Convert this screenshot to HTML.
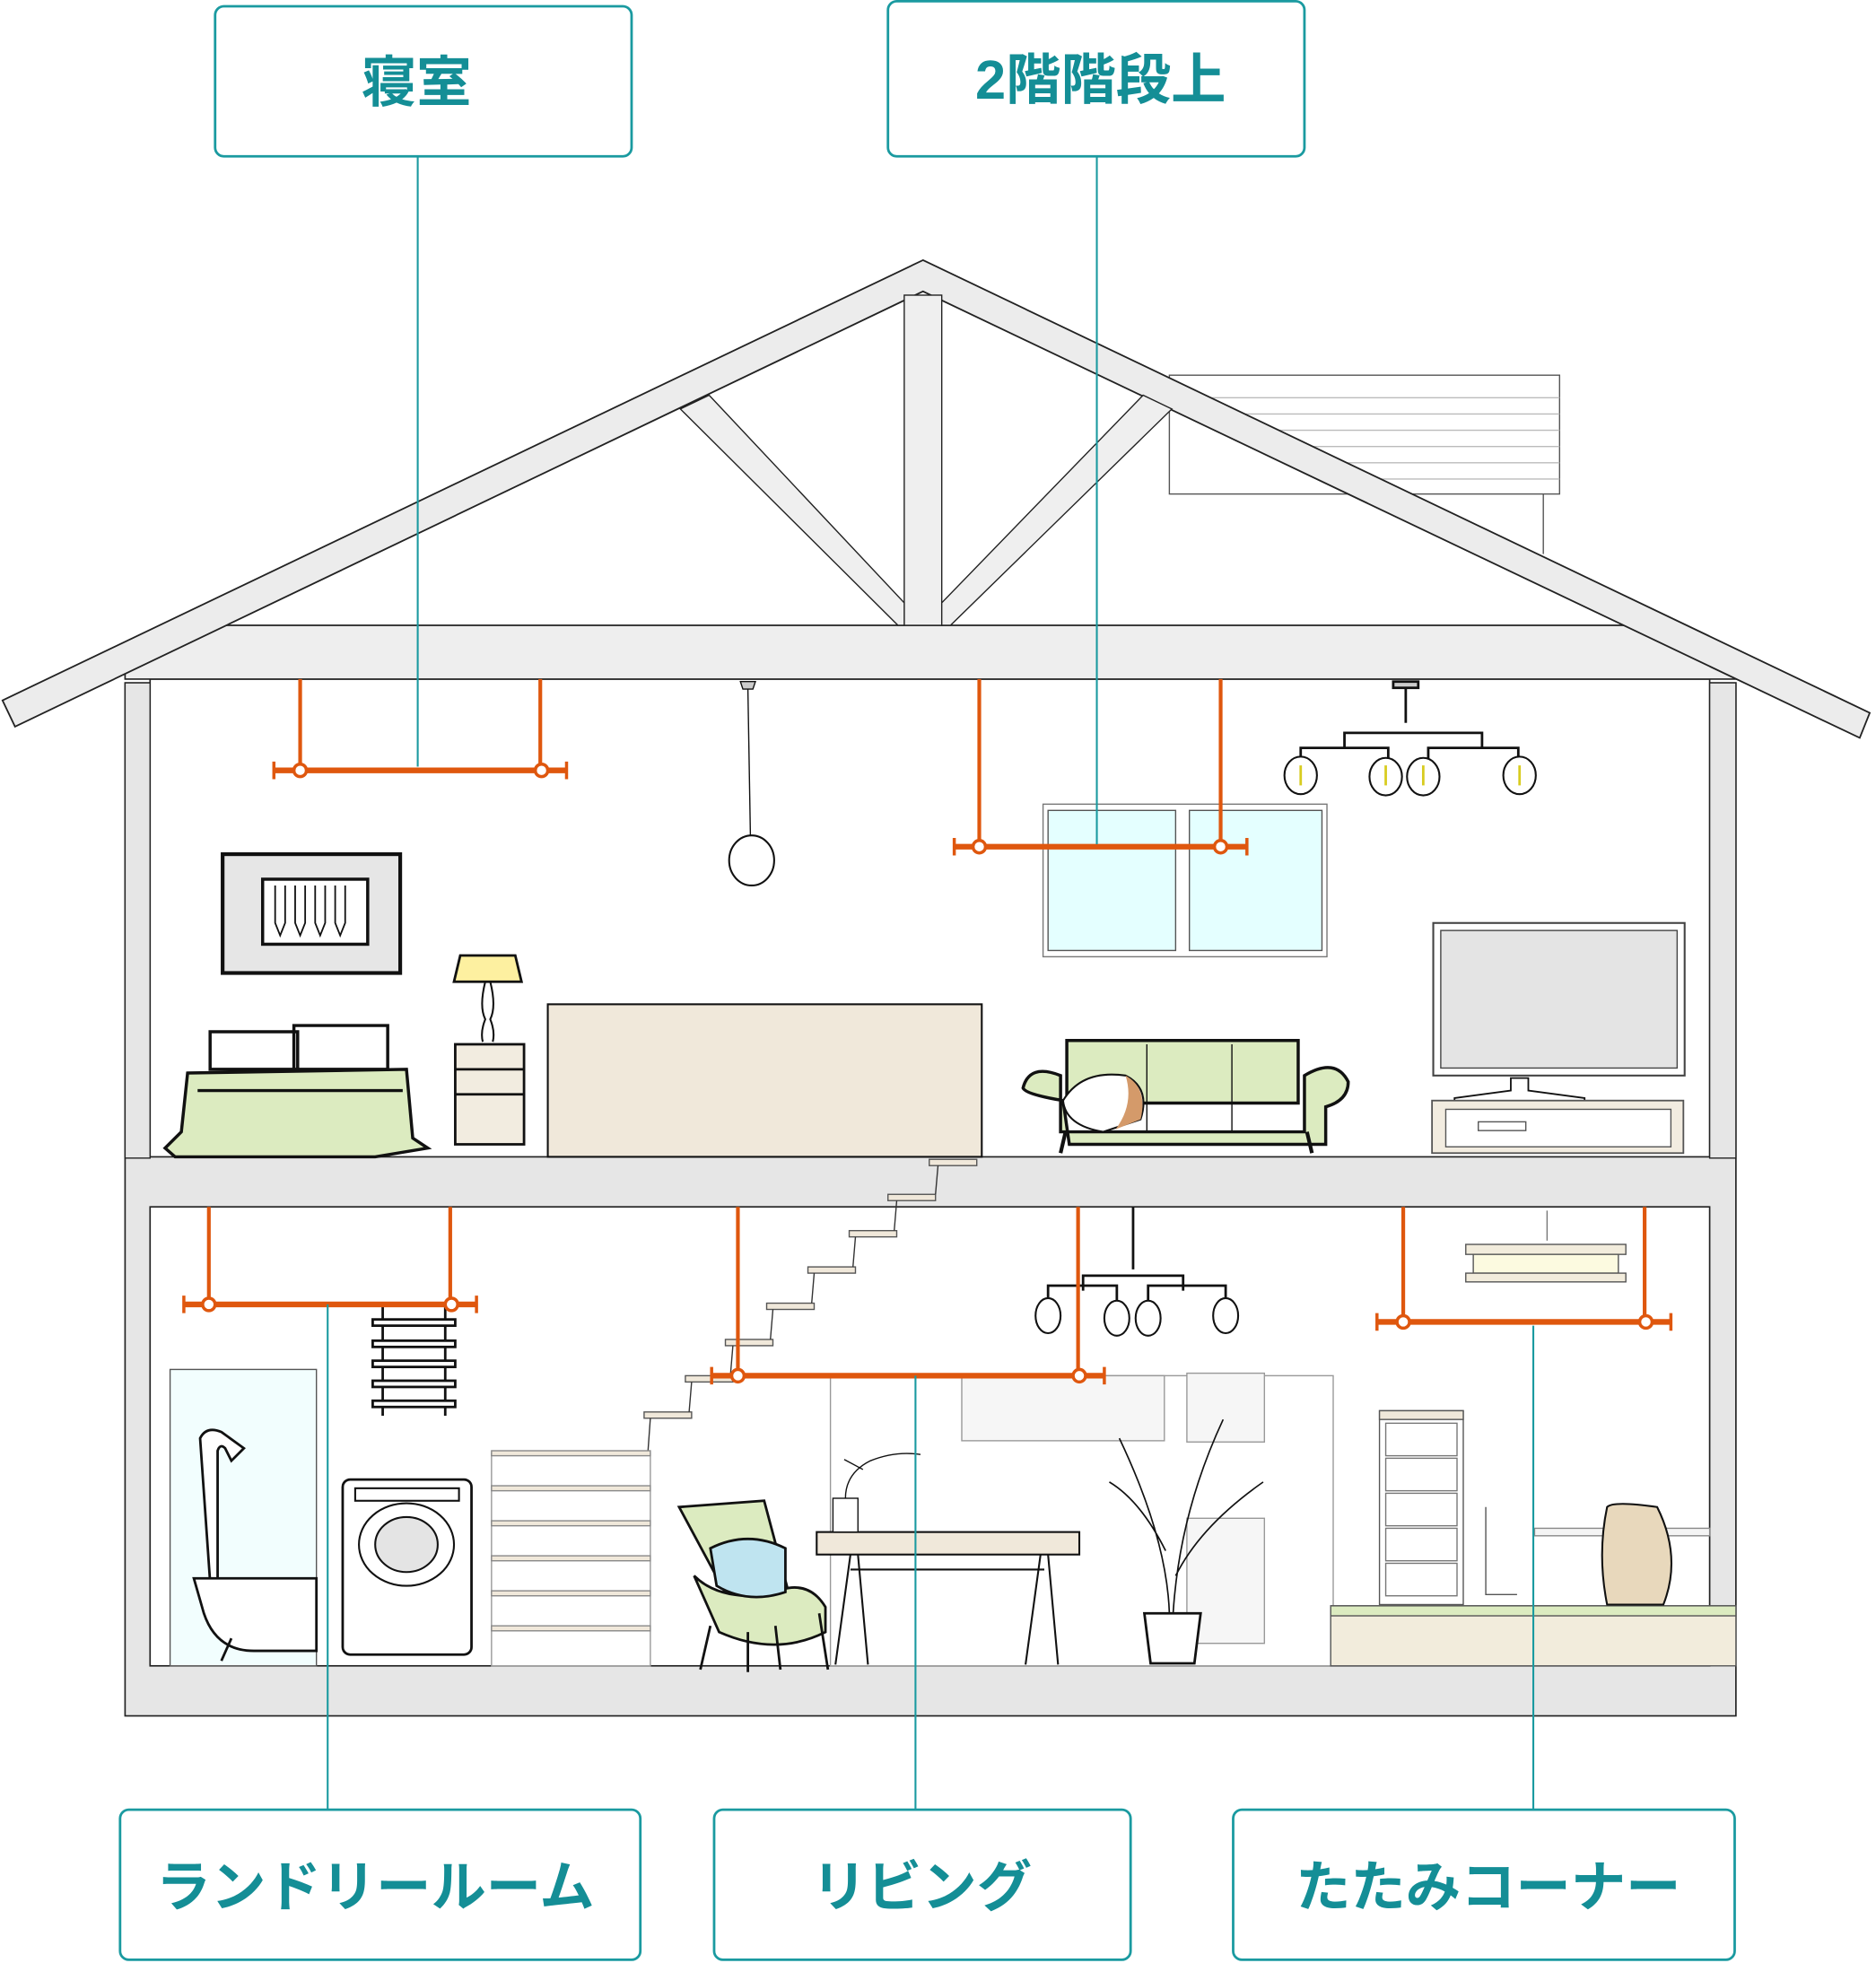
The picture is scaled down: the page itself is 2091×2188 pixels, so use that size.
<!DOCTYPE html>
<html><head><meta charset="utf-8">
<style>
html,body{margin:0;padding:0;background:#fff;}
svg{display:block;}
.lbl{font-family:"Liberation Sans","Noto Sans CJK JP",sans-serif;font-weight:bold;fill:#148e96;font-size:44px;text-anchor:middle;}
</style></head><body>
<svg width="2091" height="2188" viewBox="0 0 1500 1569.6" preserveAspectRatio="none" xmlns="http://www.w3.org/2000/svg">
<rect width="1500" height="1570" fill="#fff"/>
<g stroke="#555" stroke-width="1" fill="#fff">
<rect x="935" y="300" width="312" height="95"/>
<line x1="1234" y1="395" x2="1234" y2="443"/>
<g stroke="#bbb"><line x1="960" y1="318" x2="1247" y2="318"/><line x1="980" y1="331" x2="1247" y2="331"/><line x1="1000" y1="344" x2="1247" y2="344"/><line x1="1030" y1="357" x2="1247" y2="357"/><line x1="1060" y1="370" x2="1247" y2="370"/><line x1="1090" y1="383" x2="1247" y2="383"/></g>
</g>
<g stroke="#222" stroke-width="1.2" fill="#e6e6e6">
<rect x="100" y="546" width="1288" height="826"/>
</g>
<rect x="120" y="543" width="1247" height="382" fill="#fff" stroke="#222" stroke-width="1.2"/>
<rect x="120" y="965" width="1247" height="367" fill="#fff" stroke="#222" stroke-width="1.2"/>
<polygon points="160,500 1320,500 1388,533 1388,543 100,543 100,530" fill="#eeeeee" stroke="#222" stroke-width="1.2"/>
<path d="M738 208 L1495 570 L1487 590 L738 233 L12 581 L2 560 Z" fill="#ececec" stroke="#222" stroke-width="1.3"/>
<rect x="723" y="236" width="30" height="264" fill="#efefef" stroke="#222" stroke-width="1"/>
<polygon points="544,327 567,316 723,482 723,500 718,500" fill="#efefef" stroke="#222" stroke-width="1"/>
<polygon points="937,327 914,316 753,482 753,500 760,500" fill="#efefef" stroke="#222" stroke-width="1"/>
<rect x="100" y="546" width="20" height="380" fill="#e6e6e6" stroke="#222" stroke-width="1"/>
<rect x="1367" y="546" width="21" height="380" fill="#e6e6e6" stroke="#222" stroke-width="1"/>

<rect x="178" y="683" width="142" height="95" fill="#e6e6e6" stroke="#111" stroke-width="3"/>
<rect x="210" y="703" width="84" height="52" fill="#fff" stroke="#111" stroke-width="2.5"/>
<g stroke="#111" stroke-width="1.3" fill="none"><path d="M220 708v30l4 10 4-10v-30M236 708v30l4 10 4-10v-30M252 708v30l4 10 4-10v-30M268 708v30l4 10 4-10v-30"/></g>
<polygon points="368,764 412,764 417,785 363,785" fill="#fdf0a0" stroke="#111" stroke-width="2"/>
<path d="M388 785 q-5 20 0 30 q-4 10 -2 18 M392 785 q5 20 0 30 q4 10 2 18" stroke="#111" stroke-width="1.5" fill="none"/>
<rect x="364" y="835" width="55" height="80" fill="#f2ece0" stroke="#111" stroke-width="2"/>
<line x1="364" y1="855" x2="419" y2="855" stroke="#111" stroke-width="2"/><line x1="364" y1="875" x2="419" y2="875" stroke="#111" stroke-width="2"/>
<path d="M168 825 h70 v30 h-70 z M235 820 h75 v35 h-75 z" fill="#fff" stroke="#111" stroke-width="2.5"/>
<path d="M150 858 L325 855 L330 910 L342 918 L300 925 L140 925 L132 918 L145 905 Z" fill="#dcebc0" stroke="#111" stroke-width="2.5"/>
<line x1="158" y1="872" x2="322" y2="872" stroke="#111" stroke-width="2.5"/>
<rect x="438" y="803" width="347" height="122" fill="#f0e8da" stroke="#111" stroke-width="1.5"/>
<path d="M592 545 h12 l-2 6 h-8z" fill="#ccc" stroke="#111"/>
<line x1="598" y1="551" x2="600" y2="668" stroke="#111"/>
<ellipse cx="601" cy="688" rx="18" ry="20" fill="#fff" stroke="#111" stroke-width="1.5"/>
<rect x="834" y="643" width="227" height="122" fill="#fff" stroke="#777"/>
<rect x="838" y="648" width="102" height="112" fill="#e4ffff" stroke="#555"/>
<rect x="951" y="648" width="106" height="112" fill="#e4ffff" stroke="#555"/>
<g stroke="#111" stroke-width="2" fill="none">
<line x1="1124" y1="548" x2="1124" y2="578"/><rect x="1114" y="545" width="20" height="5" fill="#ccc"/>
<path d="M1075 598 v-12 h110 v12 M1040 612 v-14 h70 v14 M1142 612 v-14 h72 v14"/>
</g>
<g fill="#fff" stroke="#111" stroke-width="1.5">
<ellipse cx="1040" cy="620" rx="13" ry="15"/><ellipse cx="1108" cy="621" rx="13" ry="15"/><ellipse cx="1138" cy="621" rx="13" ry="15"/><ellipse cx="1215" cy="620" rx="13" ry="15"/>
</g>
<g stroke="#d8cc20" stroke-width="2"><line x1="1040" y1="612" x2="1040" y2="628"/><line x1="1108" y1="612" x2="1108" y2="628"/><line x1="1138" y1="612" x2="1138" y2="628"/><line x1="1215" y1="612" x2="1215" y2="628"/></g>
<path d="M853 832 h185 v50 h-185z" fill="#dcebc0" stroke="#111" stroke-width="2.5"/>
<path d="M818 870 q5 -20 30 -10 l0 45 h195 v-45 q25 -15 35 5 q0 15 -18 20 v30 h-205 l-5 -35 q-30 -5 -32 -10z" fill="#dcebc0" stroke="#111" stroke-width="2.5"/>
<line x1="917" y1="835" x2="917" y2="905" stroke="#111"/><line x1="985" y1="835" x2="985" y2="905" stroke="#111"/>
<path d="M850 880 q15 -25 50 -20 q20 10 12 35 l-30 10 q-30 -5 -32 -25z" fill="#fff" stroke="#111" stroke-width="1.5"/>
<path d="M900 860 q18 10 12 35 l-20 8 q15 -20 8 -43z" fill="#d49a6a"/>
<path d="M852 905 l-4 17 M1045 905 l4 17" stroke="#111" stroke-width="3"/>
<rect x="1146" y="738" width="201" height="122" fill="#fff" stroke="#444" stroke-width="1.5"/>
<rect x="1152" y="744" width="189" height="110" fill="#e4e4e4" stroke="#444"/>
<path d="M1208 862 h14 v10 l45 6 v5 h-104 v-5 l45 -6z" fill="#fff" stroke="#111" stroke-width="1.3"/>
<rect x="1145" y="880" width="201" height="42" fill="#f2ece0" stroke="#555" stroke-width="1.3"/>
<rect x="1156" y="887" width="180" height="30" fill="#fff" stroke="#555"/>
<rect x="1182" y="897" width="38" height="7" fill="#fff" stroke="#555"/>

<g fill="#f0e8da" stroke="#555" stroke-width="1">
<rect x="743" y="927" width="38" height="5"/><rect x="710" y="955" width="38" height="5"/><rect x="679" y="984" width="38" height="5"/><rect x="646" y="1013" width="38" height="5"/><rect x="613" y="1042" width="38" height="5"/><rect x="580" y="1071" width="38" height="5"/><rect x="548" y="1100" width="38" height="5"/><rect x="515" y="1129" width="38" height="5"/>
</g>
<g stroke="#333" fill="none"><path d="M750 932 l-2 23 M717 960 l-2 24 M684 989 l-2 24 M651 1018 l-2 24 M618 1047 l-2 24 M586 1076 l-2 24 M553 1105 l-2 24 M520 1134 l-2 28"/></g>
<rect x="136" y="1095" width="117" height="237" fill="#f2fefe" stroke="#555"/>
<path d="M160 1150 q5 -10 17 -5 l18 13 l-10 10 l-5 -10 q-4 -4 -6 2 l0 105 h-6z" fill="#fff" stroke="#111" stroke-width="2"/>
<path d="M155 1262 h98 v58 h-50 q-30 0 -40 -30 z" fill="#fff" stroke="#111" stroke-width="2"/>
<path d="M185 1310 l-8 18" stroke="#111" stroke-width="2"/>
<g stroke="#111" stroke-width="2" fill="#fff"><line x1="306" y1="1045" x2="306" y2="1132"/><line x1="356" y1="1045" x2="356" y2="1132"/>
<rect x="298" y="1055" width="66" height="5"/><rect x="298" y="1072" width="66" height="5"/><rect x="298" y="1088" width="66" height="5"/><rect x="298" y="1104" width="66" height="5"/><rect x="298" y="1120" width="66" height="5"/></g>
<rect x="274" y="1183" width="103" height="140" rx="6" fill="#fff" stroke="#111" stroke-width="2"/>
<rect x="284" y="1190" width="83" height="10" fill="#fff" stroke="#111" stroke-width="1.5"/>
<ellipse cx="325" cy="1235" rx="38" ry="33" fill="#fff" stroke="#111" stroke-width="1.5"/>
<ellipse cx="325" cy="1235" rx="25" ry="22" fill="#e4e4e4" stroke="#111" stroke-width="1.5"/>
<rect x="393" y="1162" width="127" height="170" fill="#fff" stroke="#999"/>
<g fill="#f0e8da" stroke="#888"><rect x="393" y="1160" width="127" height="4"/><rect x="393" y="1188" width="127" height="4"/><rect x="393" y="1216" width="127" height="4"/><rect x="393" y="1244" width="127" height="4"/><rect x="393" y="1272" width="127" height="4"/><rect x="393" y="1300" width="127" height="4"/></g>
<g fill="#f6f6f6" stroke="#999"><rect x="664" y="1100" width="402" height="232" fill="#fff"/><rect x="769" y="1100" width="162" height="52"/><rect x="949" y="1098" width="62" height="55"/><rect x="949" y="1214" width="62" height="100"/></g>
<path d="M543 1205 l68 -5 l20 75 l-45 10z" fill="#dcebc0" stroke="#111" stroke-width="2"/>
<path d="M555 1260 q20 20 60 15 q30 -15 45 10 v20 q-40 20 -85 0 z" fill="#dcebc0" stroke="#111" stroke-width="2"/>
<path d="M568 1238 q30 -15 60 0 v35 q-30 10 -55 -5z" fill="#bfe4f0" stroke="#111" stroke-width="2"/>
<path d="M568 1300 l-8 35 M598 1305 l0 32 M620 1300 l4 35 M655 1290 l7 45" stroke="#111" stroke-width="2"/>
<rect x="653" y="1225" width="210" height="18" fill="#f0e8da" stroke="#111" stroke-width="1.5"/>
<path d="M680 1243 l-12 88 M686 1243 l8 88 M832 1243 l-12 88 M838 1243 l8 88 M680 1255 h155" stroke="#111" stroke-width="1.5" fill="none"/>
<rect x="666" y="1198" width="20" height="27" fill="#fff" stroke="#111"/>
<path d="M676 1198 q0 -20 20 -30 q20 -8 40 -5 M690 1175 l-15 -8" stroke="#111" fill="none"/>
<path d="M915 1290 h45 l-5 40 h-35z" fill="#fff" stroke="#111" stroke-width="2"/>
<g stroke="#111" stroke-width="1.2" fill="none"><path d="M935 1290 q-2 -60 -40 -140 M938 1290 q5 -80 40 -155 M940 1260 q20 -40 70 -75 M932 1240 q-20 -40 -45 -55"/></g>
<rect x="1103" y="1128" width="67" height="155" fill="#fff" stroke="#555"/>
<g fill="#fff" stroke="#777"><rect x="1108" y="1138" width="57" height="26"/><rect x="1108" y="1166" width="57" height="26"/><rect x="1108" y="1194" width="57" height="26"/><rect x="1108" y="1222" width="57" height="26"/><rect x="1108" y="1250" width="57" height="26"/></g>
<rect x="1103" y="1128" width="67" height="7" fill="#f0e8da" stroke="#555"/>
<rect x="1064" y="1284" width="324" height="48" fill="#f2ecdc" stroke="#555"/>
<rect x="1064" y="1284" width="324" height="8" fill="#dcebc0" stroke="#555"/>
<rect x="1227" y="1222" width="140" height="6" fill="#f4f4f4" stroke="#888"/>
<path d="M1285 1205 q5 -5 40 0 q20 40 5 78 h-45 q-8 -40 0 -78z" fill="#e8d8bc" stroke="#111" stroke-width="1.5"/>
<path d="M1188 1205 v70 h25" stroke="#555" fill="none"/>
<line x1="1237" y1="968" x2="1237" y2="992" stroke="#777"/>
<rect x="1172" y="995" width="128" height="8" fill="#f2ecdc" stroke="#555"/>
<rect x="1178" y="1003" width="116" height="15" fill="#fcfae0" stroke="#555"/>
<rect x="1172" y="1018" width="128" height="7" fill="#f2ecdc" stroke="#555"/>
<g stroke="#111" stroke-width="2" fill="none"><line x1="906" y1="965" x2="906" y2="1015"/><path d="M866 1032 v-12 h80 v12 M838 1040 v-12 h55 v12 M918 1040 v-12 h62 v12"/></g>
<g fill="#fff" stroke="#111" stroke-width="1.5"><ellipse cx="838" cy="1052" rx="10" ry="14"/><ellipse cx="893" cy="1054" rx="10" ry="14"/><ellipse cx="918" cy="1054" rx="10" ry="14"/><ellipse cx="980" cy="1052" rx="10" ry="14"/></g>

<g stroke="#df570e" stroke-width="3" fill="none">
<path d="M240 543 V616 M432 543 V616 M783 543 V677 M976 543 V677 M167 965 V1043 M360 965 V1043 M590 965 V1100 M862 965 V1100 M1122 965 V1057 M1315 965 V1057"/>
</g>
<g stroke="#df570e" stroke-width="4.5" fill="none">
<path d="M219 616 H453 M763 677 H997 M147 1043 H381 M569 1100 H883 M1101 1057 H1336"/>
<path d="M219 609 v14 M453 609 v14 M763 670 v14 M997 670 v14 M147 1036 v14 M381 1036 v14 M569 1093 v14 M883 1093 v14 M1101 1050 v14 M1336 1050 v14" stroke-width="2.5"/>
</g>
<g fill="#fff" stroke="#df570e" stroke-width="2.5">
<circle cx="240" cy="616" r="5"/><circle cx="433" cy="616" r="5"/><circle cx="783" cy="677" r="5"/><circle cx="976" cy="677" r="5"/><circle cx="167" cy="1043" r="5"/><circle cx="361" cy="1043" r="5"/><circle cx="590" cy="1100" r="5"/><circle cx="863" cy="1100" r="5"/><circle cx="1122" cy="1057" r="5"/><circle cx="1316" cy="1057" r="5"/>
</g>

<g stroke="#1a9aa0" stroke-width="1.5">
<line x1="334" y1="125" x2="334" y2="613"/><line x1="877" y1="125" x2="877" y2="675"/>
<line x1="262" y1="1043" x2="262" y2="1447"/><line x1="732" y1="1100" x2="732" y2="1447"/><line x1="1226" y1="1060" x2="1226" y2="1447"/>
</g>
<g fill="#fff" stroke="#1a9aa0" stroke-width="2">
<rect x="172" y="5" width="333" height="120" rx="7"/>
<rect x="710" y="1" width="333" height="124" rx="7"/>
<rect x="96" y="1447" width="416" height="120" rx="7"/>
<rect x="571" y="1447" width="333" height="120" rx="7"/>
<rect x="986" y="1447" width="401" height="120" rx="7"/>
</g>
<text class="lbl" x="333" y="81">寝室</text>
<text class="lbl" x="880" y="79">2階階段上</text>
<text class="lbl" x="300" y="1524">ランドリールーム</text>
<text class="lbl" x="737" y="1524">リビング</text>
<text class="lbl" x="1190" y="1524">たたみコーナー</text>
</svg>
</body></html>
